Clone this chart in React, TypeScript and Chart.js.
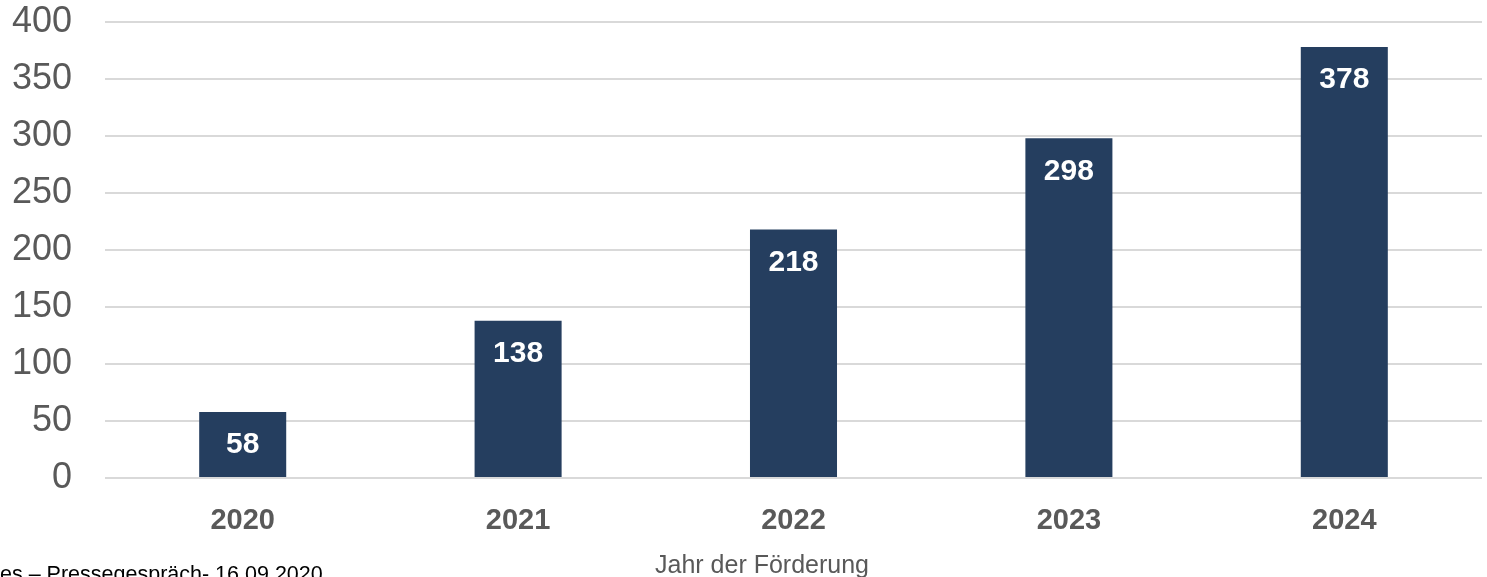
import React, { useEffect, useRef } from "react";
import { Chart, registerables } from "chart.js";

Chart.register(...registerables);

const categories = ["2020", "2021", "2022", "2023", "2024"];
const values = [58, 138, 218, 298, 378];
const yTicks = [0, 50, 100, 150, 200, 250, 300, 350, 400];
const axisTitle = "Jahr der Förderung";
const footerText = "es – Pressegespräch- 16.09.2020";

const FONT = "'Liberation Sans', Arial, sans-serif";

export default function App() {
  const ref = useRef<HTMLCanvasElement | null>(null);

  useEffect(() => {
    document.body.style.margin = "0";
    const canvas = ref.current;
    if (!canvas) return;

    const labelPlugin = {
      id: "barLabels",
      afterDatasetsDraw(chart: any) {
        const ctx = chart.ctx;
        const meta = chart.getDatasetMeta(0);
        ctx.save();
        ctx.fillStyle = "#ffffff";
        ctx.font = `bold 30px ${FONT}`;
        ctx.textAlign = "center";
        ctx.textBaseline = "middle";
        meta.data.forEach((bar: any, i: number) => {
          ctx.fillText(String(values[i]), bar.x, bar.y + 33);
        });
        ctx.restore();
      },
      afterDraw(chart: any) {
        const ctx = chart.ctx;
        ctx.save();
        ctx.fillStyle = "#000000";
        ctx.font = `21.5px ${FONT}`;
        ctx.textAlign = "left";
        ctx.textBaseline = "alphabetic";
        ctx.fillText(footerText, 0, 581);
        ctx.fillStyle = "#595959";
        ctx.font = `25px ${FONT}`;
        ctx.textAlign = "center";
        ctx.textBaseline = "alphabetic";
        ctx.fillText(axisTitle, 762, 573);
        ctx.restore();
      },
    };

    const chart = new Chart(canvas, {
      type: "bar",
      data: {
        labels: categories,
        datasets: [
          {
            data: values,
            backgroundColor: "#253E5F",
            borderWidth: 0,
            barPercentage: 0.316,
            categoryPercentage: 1,
          },
        ],
      },
      options: {
        animation: false,
        responsive: true,
        maintainAspectRatio: false,
        layout: { padding: { top: 0, right: 5, bottom: 0, left: 0 } },
        plugins: {
          legend: { display: false },
          tooltip: { enabled: false },
        },
        scales: {
          x: {
            grid: { display: false, drawTicks: false },
            border: { display: false },
            ticks: {
              color: "#595959",
              font: { family: FONT, size: 29, weight: "bold" },
              padding: 26,
            },
            afterFit(scale: any) {
              scale.height = 99;
              scale.paddingLeft = 0;
              scale.paddingRight = 0;
            },
          },
          y: {
            min: 0,
            max: 400,
            afterBuildTicks(scale: any) {
              scale.ticks = yTicks.map((v) => ({ value: v }));
            },
            grid: { color: "#d9d9d9", lineWidth: 2, drawTicks: false },
            border: { display: false },
            ticks: {
              color: "#595959",
              font: { family: FONT, size: 36 },
              padding: 33,
            },
            afterFit(scale: any) {
              scale.width = 105;
              scale.paddingTop = 22;
              scale.paddingBottom = 0;
            },
          },
        },
      },
      plugins: [labelPlugin],
    });

    return () => chart.destroy();
  }, []);

  return (
    <div style={{ position: "fixed", left: 0, top: 0, width: 1487, height: 577 }}>
      <canvas ref={ref} />
    </div>
  );
}
